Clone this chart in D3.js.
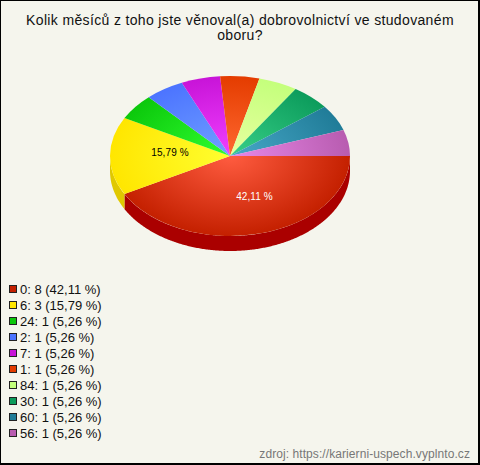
<!DOCTYPE html>
<html><head><meta charset="utf-8">
<script src="https://cdn.jsdelivr.net/npm/d3@7"></script>
<style>html,body{margin:0;padding:0;background:#f5f5ed}svg{display:block}text{font-family:"Liberation Sans",Arial,sans-serif}</style>
</head><body><svg id="c" width="480" height="465"></svg>
<script>
const categories=["0","6","24","2","7","1","84","30","60","56"];
const counts=[8,3,1,1,1,1,1,1,1,1];
const percents=["42,11","15,79","5,26","5,26","5,26","5,26","5,26","5,26","5,26","5,26"];
const rimColors=["#c42000","#ffe600","#0cc80c","#4c74ff","#c814d8","#e43c00","#c4ff7c","#0c9c5c","#207c98","#b85cb0"];
const centerColors=["#ff5c40","#ffff30","#30ff30","#70a0ff","#f040ff","#ff6830","#e8ffa0","#38d088","#48a8c8","#e888e8"];
const sideColors=["#aa0000","#e0c800","#0a9a0a","#3858c8","#9810a8","#b02c00","#98c860","#087848","#186078","#8c4488"];
const titleLines=["Kolik měsíců z toho jste věnoval(a) dobrovolnictví ve studovaném","oboru?"];
const source="zdroj: https://karierni-uspech.vyplnto.cz";

const svg=d3.select("#c");
const W=480,H=465,cx=230,cy=156,rx=120,ry=80,depth=15;
svg.append("rect").attr("width",W).attr("height",H).attr("fill","#000");
svg.append("rect").attr("x",1).attr("y",1).attr("width",W-3).attr("height",H-3).attr("fill","#f5f5ed");

svg.selectAll("text.t").data(titleLines).join("text").attr("class","t")
 .attr("x",240).attr("y",(d,i)=>25+i*15).attr("text-anchor","middle").attr("font-size",14).attr("letter-spacing",.35).attr("fill","#111").text(d=>d);

const defs=svg.append("defs");
categories.forEach((c,i)=>{
 const g=defs.append("radialGradient").attr("id","g"+i).attr("gradientUnits","userSpaceOnUse")
  .attr("cx",0).attr("cy",0).attr("r",rx);
 g.append("stop").attr("offset",0).attr("stop-color",centerColors[i]);
 g.append("stop").attr("offset",1).attr("stop-color",rimColors[i]);
});

const pie=d3.pie().sort(null).startAngle(Math.PI/2).endAngle(Math.PI/2+2*Math.PI);
const arcs=pie(counts);
const px=a=>cx+rx*Math.sin(a), py=a=>cy-ry*Math.cos(a);
const wall=svg.append("g");
arcs.forEach((d,i)=>{
 const a0=Math.max(d.startAngle,Math.PI/2), a1=Math.min(d.endAngle,3*Math.PI/2);
 if(a1<=a0) return;
 const pts=d3.range(a0,a1,0.01).concat([a1]);
 const area=d3.area().x(a=>px(a)).y0(a=>py(a)).y1(a=>py(a)+depth);
 wall.append("path").attr("d",area(pts)).attr("fill",sideColors[i]);
});
const arc=d3.arc().innerRadius(0).outerRadius(rx);
svg.append("g").attr("transform",`translate(${cx},${cy}) scale(1,${ry/rx})`)
 .selectAll("path").data(arcs).join("path").attr("d",arc).attr("fill",(d,i)=>`url(#g${i})`);

const labelShift=[[24.5,44],[-60,0]];
svg.selectAll("text.l").data(labelShift).join("text").attr("class","l")
 .attr("x",d=>cx+d[0]).attr("y",d=>cy+d[1])
 .attr("text-anchor","middle").attr("font-size",10).attr("letter-spacing",.1)
 .attr("fill",(d,i)=>i==0?"#fff":"#000").text((d,i)=>percents[i]+" %");

const leg=svg.append("g").selectAll("g").data(categories).join("g")
 .attr("transform",(d,i)=>`translate(0,${289+i*16})`);
leg.append("rect").attr("x",9.5).attr("y",-3.5).attr("width",7).attr("height",7).attr("fill",(d,i)=>rimColors[i]).attr("stroke","#222");
leg.append("text").attr("x",20).attr("y",4.5).attr("font-size",13).attr("fill","#111")
 .text((d,i)=>`${d}: ${counts[i]} (${percents[i]} %)`);

svg.append("text").attr("x",470).attr("y",458).attr("text-anchor","end").attr("font-size",12).attr("letter-spacing",.08).attr("fill","#777").text(source);
</script></body></html>
